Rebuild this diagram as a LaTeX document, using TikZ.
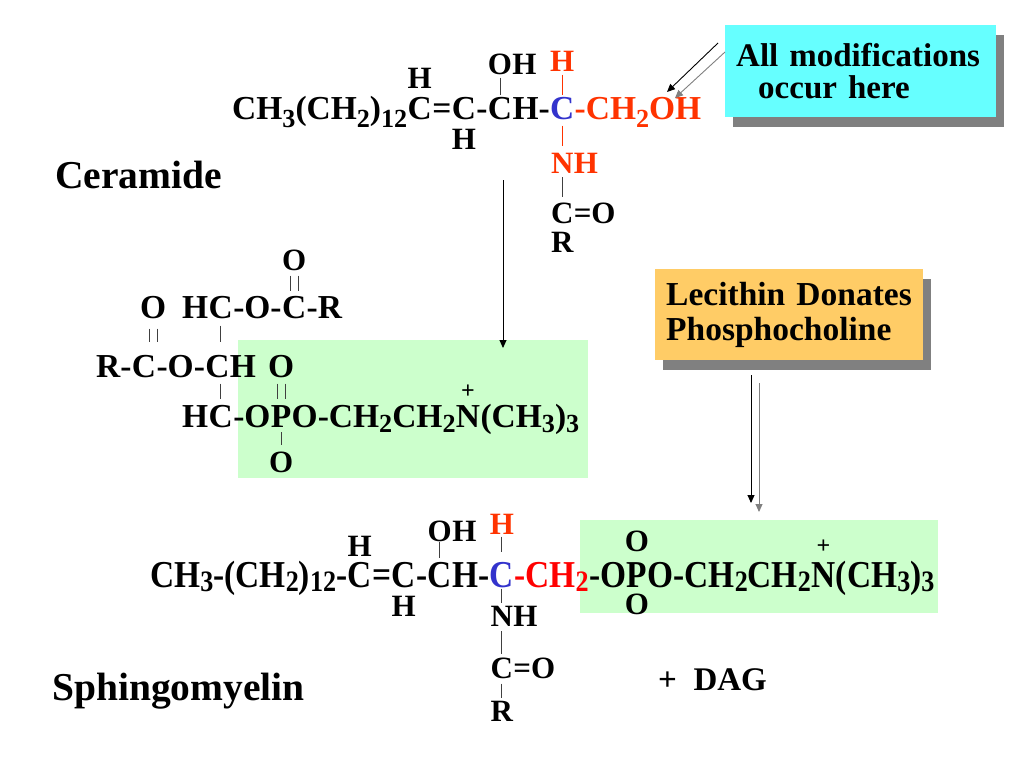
\documentclass[tikz,border=0pt]{standalone}
\usepackage{fontspec}
\setmainfont{Liberation Serif}
\newfontfamily\condserif[FakeStretch=0.88]{Liberation Serif}
\usepackage{xcolor}
\usetikzlibrary{positioning,arrows.meta,shadows}
\definecolor{hired}{RGB}{255,51,0}
\definecolor{hiblue}{RGB}{51,51,204}
\definecolor{boxgreen}{RGB}{204,255,204}
\definecolor{boxcyan}{RGB}{102,255,255}
\definecolor{boxorange}{RGB}{255,204,102}
\def\sublow{0.16em}
\newcommand{\sub}[1]{\raisebox{-\sublow}{\scalebox{0.78}{#1}}}
\newcommand{\chemfont}{\fontsize{33.5}{36}\selectfont\bfseries}
\newcommand{\subsfont}{\fontsize{31}{34}\selectfont\bfseries}
\newcommand{\condfont}{\condserif\fontsize{38}{40}\selectfont\bfseries\def\sublow{0.12em}}
\newcommand{\titlefont}{\fontsize{39.5}{42}\selectfont\bfseries}
\newcommand{\notefont}{\fontsize{33}{32}\selectfont\bfseries}
\tikzset{
  atom/.style={inner sep=0pt, anchor=base west, font=\chemfont},
  deepatom/.style={atom, font={\chemfont\def\sublow{0.26em}}},
  catom/.style={inner sep=0pt, anchor=base west, font=\condfont},
  satom/.style={inner sep=0pt, font=\subsfont},
  plus/.style={inner sep=0pt, font=\fontsize{24}{24}\selectfont\bfseries},
  bond/.style={line width=0.8pt, black!75},
  rbond/.style={line width=0.8pt, hired},
  pointer/.style={-{Triangle[length=8pt,width=7pt]}, line width=0.9pt},
  notebox/.style={font=\notefont, align=left, inner xsep=11pt, inner ysep=0pt,
    anchor=north west, drop shadow={shadow xshift=8pt, shadow yshift=-10pt, opacity=1, fill=gray}},
}
\begin{document}
\begin{tikzpicture}[x=1pt,y=-1pt]
\useasboundingbox (0,0) rectangle (1024,768);
% highlighted phosphocholine parts
\fill[boxgreen] (238,340) rectangle (588,478);
\fill[boxgreen] (580,520) rectangle (938,613);

% ceramide
\node[deepatom] (cer1) at (232,119) {CH\sub{3}(CH\sub{2})\sub{12}};
\node[deepatom] (cer2) at (cer1.base east) {C};
\node[deepatom] (cer3) at (cer2.base east) {=};
\node[deepatom] (cer4) at (cer3.base east) {C};
\node[deepatom] (cer5) at (cer4.base east) {-};
\node[deepatom] (cer6) at (cer5.base east) {C};
\node[deepatom] (cer7) at (cer6.base east) {H-};
\node[deepatom, hiblue] (cer8) at (cer7.base east) {C};
\node[deepatom, hired] (cer9) at (cer8.base east) {-CH\sub{2}OH};
\node[satom, above=8pt of cer2] (cerh1) {H};
\node[satom, below=9pt of cer4] (cerh2) {H};
\node[satom, above=22pt of cer6] (ceroh) {O};
\node[satom, anchor=base west] (ceroh2) at (ceroh.base east) {H};
\node[satom, hired, above=25pt of cer8] (cerh3) {H};
\node[satom, hired, below=33pt of cer8] (cern) {N};
\node[satom, hired, anchor=base west] (cern2) at (cern.base east) {H};
\node[satom, below=30pt of cern] (cerc) {C};
\node[satom, anchor=base west] (cerc2) at (cerc.base east) {=O};
\node[satom, below=8pt of cerc] (cerr) {R};
\draw[bond, shorten <=3pt, shorten >=2pt] (ceroh) -- (cer6);
\draw[rbond, shorten <=3pt, shorten >=2pt] (cerh3) -- (cer8);
\draw[rbond, shorten <=6pt, shorten >=7pt] (cer8) -- (cern);
\draw[bond, shorten <=4pt, shorten >=6pt] (cern) -- (cerc);
\node[font=\titlefont, inner sep=0pt, anchor=base west] (cername) at (55,188) {Ceramide};

% note boxes
\node[notebox, fill=boxcyan, text width=249pt, minimum height=92pt] (mods) at (725,25)
  {All modifications\\\hspace*{22pt}occur here};
\coordinate (modtip) at (667,92);
\draw[pointer, gray] ([shift={(0,27)}]mods.north west) -- ([shift={(8,6)}]modtip);
\draw[pointer] ([shift={(-7,18)}]mods.north west) -- (modtip);

\node[notebox, fill=boxorange, text width=246pt, minimum height=91pt,
  font={\fontsize{33.5}{35}\selectfont\bfseries}] (lec) at (655,269)
  {Lecithin Donates\\Phosphocholine};
\coordinate (dontip) at (751,503);
\draw[pointer, gray] ([shift={(104,23)}]lec.south west) -- ([shift={(8,9)}]dontip);
\draw[pointer] ([shift={(96,15)}]lec.south west) -- (dontip);

% lecithin
\node[atom] (leco1) at (140,318) {O};
\node[atom] (leca1) at (182,318) {H};
\node[atom] (leca2) at (leca1.base east) {C};
\node[atom] (leca3) at (leca2.base east) {-O-};
\node[atom] (leca4) at (leca3.base east) {C};
\node[atom] (leca5) at (leca4.base east) {-R};
\node[satom, above=25pt of leca4] (leco2) {O};
\node[atom] (lecb1) at (96,377) {R-};
\node[atom] (lecb2) at (lecb1.base east) {C};
\node[atom] (lecb3) at (lecb2.base east) {-O-};
\node[atom] (lecb4) at (lecb3.base east) {C};
\node[atom] (lecb5) at (lecb4.base east) {H};
\node[atom] (leco3) at (268,377) {O};
\node[atom] (lecc1) at (182,427) {H};
\node[atom] (lecc2) at (lecc1.base east) {C};
\node[atom] (lecc3) at (lecc2.base east) {-O};
\node[atom] (lecc4) at (lecc3.base east) {P};
\node[atom] (lecc5) at (lecc4.base east) {O-CH\sub{2}CH\sub{2}};
\node[atom] (lecc6) at (lecc5.base east) {N};
\node[atom] (lecc7) at (lecc6.base east) {(CH\sub{3})\sub{3}};
\node[plus, above=6pt of lecc6] (lecplus) {+};
\node[satom, below=25pt of lecc4] (leco4) {O};
\foreach \dx in {-4pt,4pt} {
  \draw[bond, shorten <=10pt, shorten >=13pt] ([xshift=\dx]leco1.south) -- ([xshift=\dx]leco1.south |- lecb2.north);
  \draw[bond, shorten <=5pt, shorten >=5pt] ([xshift=\dx]leco2.south) -- ([xshift=\dx]leca4.north);
  \draw[bond, shorten <=6pt, shorten >=6pt] ([xshift=\dx]leco3.south) -- ([xshift=\dx]leco3.south |- lecc4.north);
}
\draw[bond, shorten <=7pt, shorten >=13pt] (leca2.south) -- (leca2.south |- lecb4.north);
\draw[bond, shorten <=6pt, shorten >=6pt] (lecc2.north |- lecb4.south) -- (lecc2.north);
\draw[bond, shorten <=5pt, shorten >=7pt] (lecc4) -- (leco4);
\coordinate (cerdown) at (503,180);
\coordinate (lecin) at (503,348);
\draw[pointer] (cerdown) -- (lecin);

% sphingomyelin
\node[catom] (sph1) at (150,587) {CH\sub{3}-(CH\sub{2})\sub{12}-};
\node[catom] (sph2) at (sph1.base east) {C};
\node[catom] (sph3) at (sph2.base east) {=};
\node[catom] (sph4) at (sph3.base east) {C};
\node[catom] (sph5) at (sph4.base east) {-};
\node[catom] (sph6) at (sph5.base east) {C};
\node[catom] (sph7) at (sph6.base east) {H-};
\node[catom, hiblue] (sph8) at (sph7.base east) {C};
\node[catom, red] (sph9) at (sph8.base east) {-CH\sub{2}};
\node[catom] (sph10) at (sph9.base east) {-O};
\node[catom] (sph11) at (sph10.base east) {P};
\node[catom] (sph12) at (sph11.base east) {O-CH\sub{2}CH\sub{2}};
\node[catom] (sph13) at (sph12.base east) {N};
\node[catom] (sph14) at (sph13.base east) {(CH\sub{3})\sub{3}};
\node[satom, above=5pt of sph2] (sphh1) {H};
\node[satom, below=8pt of sph4] (sphh2) {H};
\node[satom, above=20pt of sph6] (sphoh) {O};
\node[satom, anchor=base west] (sphoh2) at (sphoh.base east) {H};
\node[satom, hired, above=27pt of sph8] (sphh3) {H};
\node[satom, below=18pt of sph8] (sphn) {N};
\node[satom, anchor=base west] (sphn2) at (sphn.base east) {H};
\node[satom, below=31pt of sphn] (sphc) {C};
\node[satom, anchor=base west] (sphc2) at (sphc.base east) {=O};
\node[satom, below=22pt of sphc] (sphr) {R};
\node[satom, above=10pt of sph11] (sphpo1) {O};
\node[satom, below=7pt of sph11] (sphpo2) {O};
\node[plus, above=8pt of sph13] (sphplus) {+};
\draw[bond, shorten >=4pt] (sphoh) -- (sph6);
\draw[bond, shorten <=2pt, shorten >=10pt] (sphh3) -- (sph8);
\draw[bond, shorten <=1pt, shorten >=3pt] (sph8) -- (sphn);
\draw[bond, shorten <=5pt, shorten >=3pt] (sphn) -- (sphc);
\draw[bond, shorten <=5pt, shorten >=3pt] (sphc) -- (sphr);
\node[font=\titlefont, inner sep=0pt, anchor=base west] (sphname) at (52,700) {Sphingomyelin};
\node[font=\notefont, inner sep=0pt, anchor=base west] (dag) at (658,690) {+\ \ DAG};
\end{tikzpicture}
\end{document}
